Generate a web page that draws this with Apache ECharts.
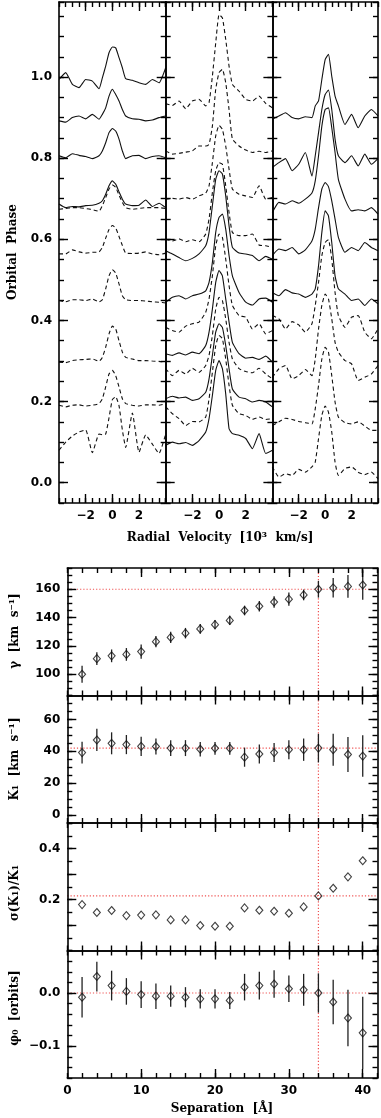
<!DOCTYPE html>
<html><head><meta charset="utf-8">
<script src="https://cdn.jsdelivr.net/npm/echarts@6/dist/echarts.min.js"></script>
<style>html,body{margin:0;padding:0;background:#fff}#c{width:381px;height:1118px}</style>
</head><body><div id="c"></div>
<script>
// ---------- Top: line profiles (orbital phase offset) ----------
const velGrid = [-4,-3.5,-3,-2.5,-2,-1.5,-1,-0.75,-0.5,-0.25,0,0.25,0.5,0.75,1,1.5,2,2.5,3,3.5,4];

const L1 = [0.994,1.011,0.982,0.974,0.994,0.990,0.971,0.998,1.027,1.060,1.074,1.072,1.048,1.023,0.996,0.992,0.986,0.982,0.994,0.986,1.023];
const L2 = [0.892,0.889,0.900,0.904,0.897,0.908,0.896,0.908,0.924,0.953,0.970,0.957,0.941,0.920,0.904,0.897,0.896,0.892,0.894,0.900,0.904];
const L3 = [0.806,0.801,0.811,0.807,0.804,0.799,0.806,0.818,0.838,0.863,0.873,0.867,0.847,0.818,0.799,0.806,0.807,0.799,0.804,0.806,0.801];
const L4 = [0.687,0.678,0.681,0.680,0.683,0.684,0.689,0.695,0.711,0.732,0.744,0.736,0.717,0.699,0.687,0.683,0.684,0.697,0.681,0.689,0.678];
const L5 = [0.674,0.676,0.678,0.678,0.676,0.673,0.669,0.683,0.703,0.724,0.734,0.728,0.709,0.691,0.678,0.674,0.676,0.678,0.678,0.678,0.676];
const L6 = [0.564,0.564,0.574,0.569,0.566,0.568,0.569,0.580,0.603,0.624,0.634,0.628,0.607,0.585,0.566,0.565,0.566,0.569,0.564,0.562,0.566];
const L7 = [0.449,0.446,0.451,0.451,0.449,0.453,0.446,0.451,0.478,0.510,0.525,0.517,0.490,0.461,0.451,0.449,0.449,0.448,0.446,0.445,0.443];
const L8 = [0.297,0.296,0.301,0.303,0.304,0.305,0.299,0.309,0.334,0.367,0.386,0.379,0.350,0.322,0.309,0.305,0.301,0.301,0.300,0.299,0.297];
const L9 = [0.191,0.187,0.191,0.192,0.189,0.191,0.195,0.207,0.236,0.268,0.277,0.264,0.236,0.207,0.195,0.191,0.189,0.192,0.192,0.191,0.195];
const L10 = [0.080,0.100,0.115,0.125,0.130,0.074,0.120,0.118,0.120,0.160,0.205,0.212,0.190,0.130,0.087,0.172,0.075,0.118,0.095,0.072,0.120];

const M1 = [0.935,0.930,0.941,0.922,0.941,0.945,0.929,0.937,1.002,1.084,1.154,1.146,1.093,1.027,0.982,0.965,0.945,0.941,0.953,0.935,0.924];
const M2 = [0.818,0.810,0.812,0.815,0.818,0.830,0.830,0.834,0.879,0.970,1.011,1.019,0.986,0.920,0.847,0.830,0.820,0.814,0.817,0.814,0.818];
const M3 = [0.699,0.701,0.699,0.703,0.699,0.707,0.714,0.732,0.789,0.855,0.881,0.871,0.830,0.773,0.724,0.711,0.707,0.703,0.732,0.699,0.703];
const M4 = [0.601,0.596,0.601,0.594,0.599,0.594,0.613,0.650,0.715,0.769,0.789,0.785,0.732,0.666,0.617,0.609,0.609,0.613,0.586,0.584,0.580];
const M5 = [0.572,0.564,0.555,0.547,0.553,0.564,0.584,0.617,0.683,0.748,0.769,0.761,0.707,0.633,0.580,0.566,0.564,0.560,0.547,0.558,0.551];
const M6 = [0.445,0.457,0.461,0.453,0.461,0.465,0.473,0.494,0.543,0.617,0.654,0.662,0.625,0.560,0.510,0.469,0.445,0.438,0.453,0.455,0.445];
const M7 = [0.383,0.375,0.371,0.386,0.392,0.396,0.420,0.453,0.510,0.584,0.613,0.605,0.551,0.486,0.437,0.412,0.408,0.379,0.392,0.367,0.375];
const M8 = [0.318,0.314,0.320,0.315,0.322,0.318,0.338,0.371,0.428,0.494,0.523,0.510,0.453,0.396,0.346,0.318,0.307,0.309,0.304,0.312,0.297];
const M9 = [0.281,0.264,0.277,0.268,0.282,0.272,0.289,0.314,0.363,0.428,0.457,0.449,0.404,0.346,0.305,0.281,0.274,0.271,0.282,0.268,0.256];
const M10 = [0.207,0.213,0.209,0.211,0.203,0.207,0.223,0.256,0.314,0.371,0.392,0.383,0.338,0.281,0.231,0.211,0.207,0.199,0.203,0.199,0.187];
const M11 = [0.187,0.170,0.158,0.141,0.151,0.150,0.162,0.207,0.272,0.338,0.363,0.355,0.305,0.240,0.191,0.170,0.166,0.156,0.162,0.156,0.158];
const M12 = [0.092,0.100,0.096,0.099,0.092,0.104,0.125,0.158,0.215,0.277,0.301,0.281,0.219,0.133,0.121,0.117,0.109,0.084,0.121,0.072,0.080];

const R1 = [0.896,0.904,0.912,0.900,0.897,0.902,0.900,0.929,0.941,0.994,1.043,1.056,1.002,0.953,0.929,0.883,0.908,0.875,0.904,0.920,0.904];
const R2 = [0.777,0.789,0.799,0.769,0.785,0.814,0.756,0.806,0.863,0.920,0.957,0.968,0.920,0.847,0.806,0.789,0.806,0.781,0.810,0.785,0.799];
const R3 = [0.666,0.691,0.687,0.695,0.689,0.699,0.714,0.744,0.806,0.879,0.920,0.924,0.875,0.814,0.748,0.699,0.670,0.673,0.670,0.678,0.662];
const R4 = [0.560,0.576,0.572,0.580,0.564,0.574,0.596,0.625,0.678,0.724,0.740,0.730,0.695,0.650,0.605,0.568,0.580,0.572,0.592,0.580,0.572];
const R5 = [0.469,0.461,0.476,0.468,0.465,0.457,0.465,0.478,0.535,0.617,0.670,0.658,0.592,0.510,0.478,0.465,0.449,0.453,0.437,0.453,0.441];
const R6 = [0.412,0.404,0.379,0.397,0.389,0.371,0.392,0.437,0.494,0.560,0.592,0.599,0.551,0.469,0.412,0.383,0.408,0.412,0.371,0.355,0.379];
const R7 = [0.260,0.281,0.289,0.256,0.264,0.279,0.264,0.305,0.379,0.437,0.465,0.453,0.404,0.346,0.322,0.301,0.293,0.252,0.260,0.268,0.289];
const R8 = [0.141,0.150,0.159,0.156,0.151,0.148,0.145,0.182,0.240,0.305,0.334,0.322,0.264,0.199,0.162,0.148,0.145,0.150,0.140,0.129,0.129];
const R9 = [0.039,0.014,0.022,0.018,0.033,0.026,0.039,0.051,0.109,0.166,0.189,0.174,0.125,0.051,0.018,0.035,0.039,0.026,0.020,0.026,0.010];

const leftProfiles = [L1,L2,L3,L4,L5,L6,L7,L8,L9,L10];
const leftDashed   = [0,0,0,0,1,1,1,1,1,1];
const midProfiles  = [M1,M2,M3,M4,M5,M6,M7,M8,M9,M10,M11,M12];
const midDashed    = [1,1,1,1,0,0,1,0,1,0,1,0];
const rightProfiles = [R1,R2,R3,R4,R5,R6,R7,R8,R9];
const rightDashed   = [0,0,0,0,0,1,1,1,1];

const velTickLabels = [-2,0,2];
const phaseTickLabels = [0,0.2,0.4,0.6,0.8,1.0];

// ---------- Bottom: parameters vs separation ----------
const sepX = [2,4,6,8,10,12,14,16,18,20,22,24,26,28,30,32,34,36,38,40];
const gammaVals = [100,111,113,114,116,123,126,129,132,135,138,145,148,151,153,156,160,161,162,163];
const gammaErr  = [6,4.5,4.5,4.5,5,4,4,3.7,3.4,3.3,3.3,3.4,3.7,4.1,4.7,3.8,5.9,6.9,8,10.4];
const k1Vals = [39.2,47.1,45,44.2,43.1,43,42,42,41.3,41.9,41.9,36.3,38.3,39.2,41,41,42,41,38,37];
const k1Err  = [6.8,7,6.9,6,6,5,5,5,4.5,4,4,6,6,6,6,7,9,10,11,13];
const sigmaVals = [0.180,0.149,0.157,0.137,0.139,0.140,0.120,0.120,0.098,0.095,0.095,0.167,0.158,0.154,0.146,0.171,0.214,0.244,0.289,0.352];
const phiVals = [-0.008,0.031,0.014,0.003,-0.003,-0.006,-0.006,-0.008,-0.011,-0.011,-0.014,0.011,0.014,0.017,0.008,0.006,0.000,-0.017,-0.047,-0.075];
const phiErr  = [0.038,0.028,0.028,0.025,0.025,0.024,0.020,0.019,0.018,0.018,0.016,0.025,0.026,0.026,0.025,0.030,0.037,0.042,0.053,0.068];

const sepRef = 34;
const gammaRef = 160;
const k1Ref = 42;
const sigmaRef = 0.214;
const phiRef = 0;

const sepTickLabels = [0,10,20,30,40];
const sepMajor = [10,20,30,40];
const gammaTickLabels = [100,120,140,160];
const k1TickLabels = [0,20,40,60];
const sigmaTickLabels = [0.2,0.4];
const sigmaMajor = [0.1,0.2,0.3,0.4];
const phiTickLabels = [-0.1,0];

// ---------- build ----------
const FONT = 'DejaVu Sans';
const grids = [], xAxes = [], yAxes = [], series = [];

function isOn(v, list){ return list.some(t => Math.abs(t - v) < 1e-6); }
function fmt(v, dec){ if (Math.abs(v) < 1e-9) v = 0; return v.toFixed(dec).replace('-', '\u2212'); }

function shortAxis(gi, pos, c, labels){
  return {type:'value', gridIndex:gi, position:pos, min:c.min, max:c.max, interval:c.step, z:10,
    axisLine:{show:true, onZero:false, lineStyle:{color:'#000', width:1.6}},
    axisTick:{show:true, inside:true, length:5, lineStyle:{color:'#000', width:1.4}},
    splitLine:{show:false}, minorTick:{show:false},
    axisLabel: labels ? {show:true, margin:7, color:'#000', fontFamily:FONT, fontSize:12, fontWeight:'bold',
      showMinLabel:true, showMaxLabel:true,
      formatter: v => isOn(v, c.labels) ? fmt(v, c.dec) : ''} : {show:false}};
}
function longAxis(gi, pos, c){
  return {type:'value', gridIndex:gi, position:pos, min:c.min, max:c.max, interval:c.step, z:10,
    axisLine:{show:false, onZero:false},
    axisTick:{show:true, inside:true, length:9, customValues:c.major, lineStyle:{color:'#000', width:1.4}},
    axisLabel:{show:false}, splitLine:{show:false}};
}
function panel(gridDef, xc, yc, xLabels, yLabels){
  const gi = grids.length;
  grids.push(gridDef);
  const xi = xAxes.length, yi = yAxes.length;
  xAxes.push(shortAxis(gi, 'bottom', xc, xLabels));
  xAxes.push(longAxis(gi, 'bottom', xc));
  xAxes.push(shortAxis(gi, 'top', xc, false));
  xAxes.push(longAxis(gi, 'top', xc));
  yAxes.push(shortAxis(gi, 'left', yc, yLabels));
  yAxes.push(longAxis(gi, 'left', yc));
  yAxes.push(shortAxis(gi, 'right', yc, false));
  yAxes.push(longAxis(gi, 'right', yc));
  return {xi, yi};
}

// top panels
const velCfg = {min:-4, max:4, step:0.5, major:velTickLabels, labels:velTickLabels, dec:0};
const phaseCfg = {min:-0.05, max:1.185, step:0.05, major:phaseTickLabels, labels:phaseTickLabels, dec:1};
const topLefts = [59, 165.7, 272.3];
const topSets = [[leftProfiles,leftDashed],[midProfiles,midDashed],[rightProfiles,rightDashed]];
topSets.forEach((set, k) => {
  const ax = panel({left:topLefts[k], top:2, width:106.7, height:501}, velCfg, phaseCfg, true, k === 0);
  set[0].forEach((prof, j) => {
    series.push({type:'line', xAxisIndex:ax.xi, yAxisIndex:ax.yi, showSymbol:false, smooth:0.15,
      silent:true, animation:false,
      lineStyle:{color:'#111', width:1.1, type: set[1][j] ? [4,3] : 'solid'},
      data: velGrid.map((v,i) => [v, prof[i]])});
  });
});

// bottom panels
const sepCfg = {min:0, max:42, step:2, major:sepMajor, labels:sepTickLabels, dec:0};
const refStyle = {color:'#f05050', type:[1.2,2], width:1.2};
const bottomDefs = [
  {y:{min:85, max:175, step:5, major:gammaTickLabels, labels:gammaTickLabels, dec:0}, vals:gammaVals, err:gammaErr, ref:gammaRef},
  {y:{min:-5, max:75, step:5, major:k1TickLabels, labels:k1TickLabels, dec:0}, vals:k1Vals, err:k1Err, ref:k1Ref},
  {y:{min:0, max:0.5, step:0.05, major:sigmaMajor, labels:sigmaTickLabels, dec:1}, vals:sigmaVals, err:null, ref:sigmaRef},
  {y:{min:-0.16, max:0.08, step:0.02, major:phiTickLabels, labels:phiTickLabels, dec:1}, vals:phiVals, err:phiErr, ref:phiRef}
];
const bottomTops = [568, 695.5, 823, 950.5];
bottomDefs.forEach((d, k) => {
  const ax = panel({left:67.3, top:bottomTops[k], width:310.2, height:127.5}, sepCfg, d.y, k === 3, true);
  series.push({type:'line', xAxisIndex:ax.xi, yAxisIndex:ax.yi, showSymbol:false, silent:true, animation:false,
    lineStyle:refStyle, data:[[sepCfg.min, d.ref],[sepCfg.max, d.ref]], z:1});
  series.push({type:'line', xAxisIndex:ax.xi, yAxisIndex:ax.yi, showSymbol:false, silent:true, animation:false,
    lineStyle:refStyle, data:[[sepRef, d.y.min],[sepRef, d.y.max]], z:1});
  if (d.err) {
    series.push({type:'custom', xAxisIndex:ax.xi, yAxisIndex:ax.yi, silent:true, animation:false, z:3,
      encode:{x:0, y:1},
      data: sepX.map((x,i) => [x, d.vals[i], d.err[i]]),
      renderItem: (params, api) => {
        const x = api.value(0), y = api.value(1), e = api.value(2);
        const p1 = api.coord([x, y - e]), p2 = api.coord([x, y + e]);
        return {type:'line', shape:{x1:p1[0], y1:p1[1], x2:p2[0], y2:p2[1]},
          style:{stroke:'#222', lineWidth:1.3}};
      }});
  }
  series.push({type:'scatter', xAxisIndex:ax.xi, yAxisIndex:ax.yi, silent:true, animation:false,
    symbol:'diamond', symbolSize:[7,8], z:5,
    itemStyle:{color:'rgba(255,255,255,0)', borderColor:'#111', borderWidth:1.1},
    data: sepX.map((x,i) => [x, d.vals[i]])});
});

const titleFont = 'bold 12px "DejaVu Serif"';
const graphic = [
  {type:'text', x:13, y:252, rotation:Math.PI/2, style:{text:'Orbital  Phase', font:titleFont, fill:'#000', align:'center', verticalAlign:'middle'}},
  {type:'text', x:220, y:538, style:{text:'Radial  Velocity  [10\u00B3  km/s]', font:titleFont, fill:'#000', align:'center', verticalAlign:'middle'}},
  {type:'text', x:15, y:631, rotation:Math.PI/2, style:{text:'\u03B3  [km  s\u207B\u00B9]', font:titleFont, fill:'#000', align:'center', verticalAlign:'middle'}},
  {type:'text', x:15, y:759, rotation:Math.PI/2, style:{text:'K\u2081  [km  s\u207B\u00B9]', font:titleFont, fill:'#000', align:'center', verticalAlign:'middle'}},
  {type:'text', x:15, y:893, rotation:Math.PI/2, style:{text:'\u03C3(K\u2081)/K\u2081', font:titleFont, fill:'#000', align:'center', verticalAlign:'middle'}},
  {type:'text', x:15, y:1008, rotation:Math.PI/2, style:{text:'\u03C6\u2080  [orbits]', font:titleFont, fill:'#000', align:'center', verticalAlign:'middle'}},
  {type:'text', x:222, y:1109, style:{text:'Separation  [\u00C5]', font:titleFont, fill:'#000', align:'center', verticalAlign:'middle'}}
];

const chart = echarts.init(document.getElementById('c'));
chart.setOption({animation:false, backgroundColor:'#fff', grid:grids, xAxis:xAxes, yAxis:yAxes, series:series, graphic:graphic});
</script></body></html>
